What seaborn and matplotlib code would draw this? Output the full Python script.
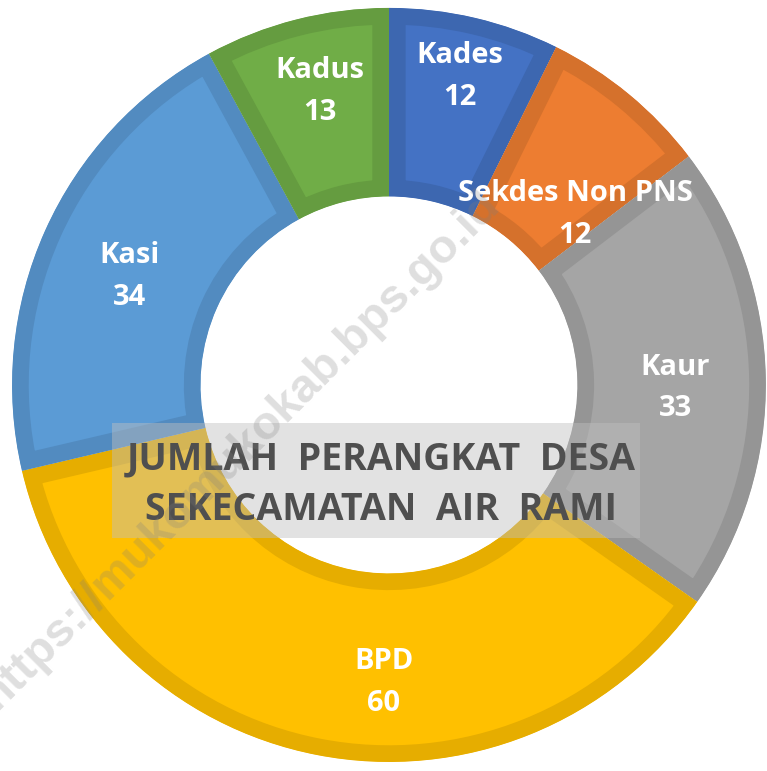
import numpy as np
import matplotlib
matplotlib.use("Agg")
import matplotlib.pyplot as plt
from matplotlib.patches import Rectangle
import seaborn as sns

# data
jabatan = ["Kades", "Sekdes Non PNS", "Kaur", "BPD", "Kasi", "Kadus"]
jumlah = [12, 12, 33, 60, 34, 13]
warna = ["#4472C4", "#ED7D31", "#A5A5A5", "#FFC000", "#5B9BD5", "#70AD47"]

judul = "JUMLAH  PERANGKAT  DESA\nSEKECAMATAN  AIR  RAMI"
watermark = "https://mukomukokab.bps.go.id"

# label placement (radius, angle shift in degrees from wedge middle)
label_r = [0.84, 0.67, 0.76, 0.79, 0.745, 0.80]
label_shift = [0.3, -8, -1.7, 10, 1.4, -1.1]

sns.set_theme(style="white")
palette = sns.color_palette(warna)
frame = [tuple(c * 0.9 for c in col) for col in palette]

fig = plt.figure(figsize=(7.67, 7.71), dpi=100)
ax = fig.add_axes([0, 0, 1, 1])

wedges, _ = ax.pie(jumlah, colors=palette, startangle=90, counterclock=False,
                   radius=1.0, wedgeprops=dict(width=0.5, linewidth=24))
for w, ec in zip(wedges, frame):
    w.set_edgecolor(ec)
    w.set_clip_on(True)
    w.set_clip_path(w)  # keep only the inner half of the stroke -> inner frame

for w, name, val, r, dth in zip(wedges, jabatan, jumlah, label_r, label_shift):
    ang = np.deg2rad((w.theta1 + w.theta2) / 2 + dth)
    ax.text(r * np.cos(ang), r * np.sin(ang), f"{name}\n{val}",
            ha="center", va="center", color="white", fontsize=21,
            fontweight="bold", family="Open Sans", linespacing=1.58)

# title box in the middle
ax.add_patch(Rectangle((-0.735, -0.406), 1.401, 0.305, facecolor="#BFBFBF",
                       edgecolor="none", alpha=0.45, zorder=3))
ax.text(-0.021, -0.265, judul, ha="center", va="center", color="#4F4F4F",
        fontsize=27, fontweight="bold", family="Open Sans", linespacing=1.45,
        zorder=4)

# watermark
ax.text(-0.395, -0.172, watermark, ha="center", va="center", rotation=45,
        rotation_mode="anchor", fontsize=34, fontweight="bold",
        family="Liberation Sans", color="#7F7F7F", alpha=0.25, zorder=5)

ax.set_aspect("auto")
ax.set_xlim(-1.032, 1.003)
ax.set_ylim(-1.024, 1.021)
ax.axis("off")

fig.savefig("out.png", dpi=100)
